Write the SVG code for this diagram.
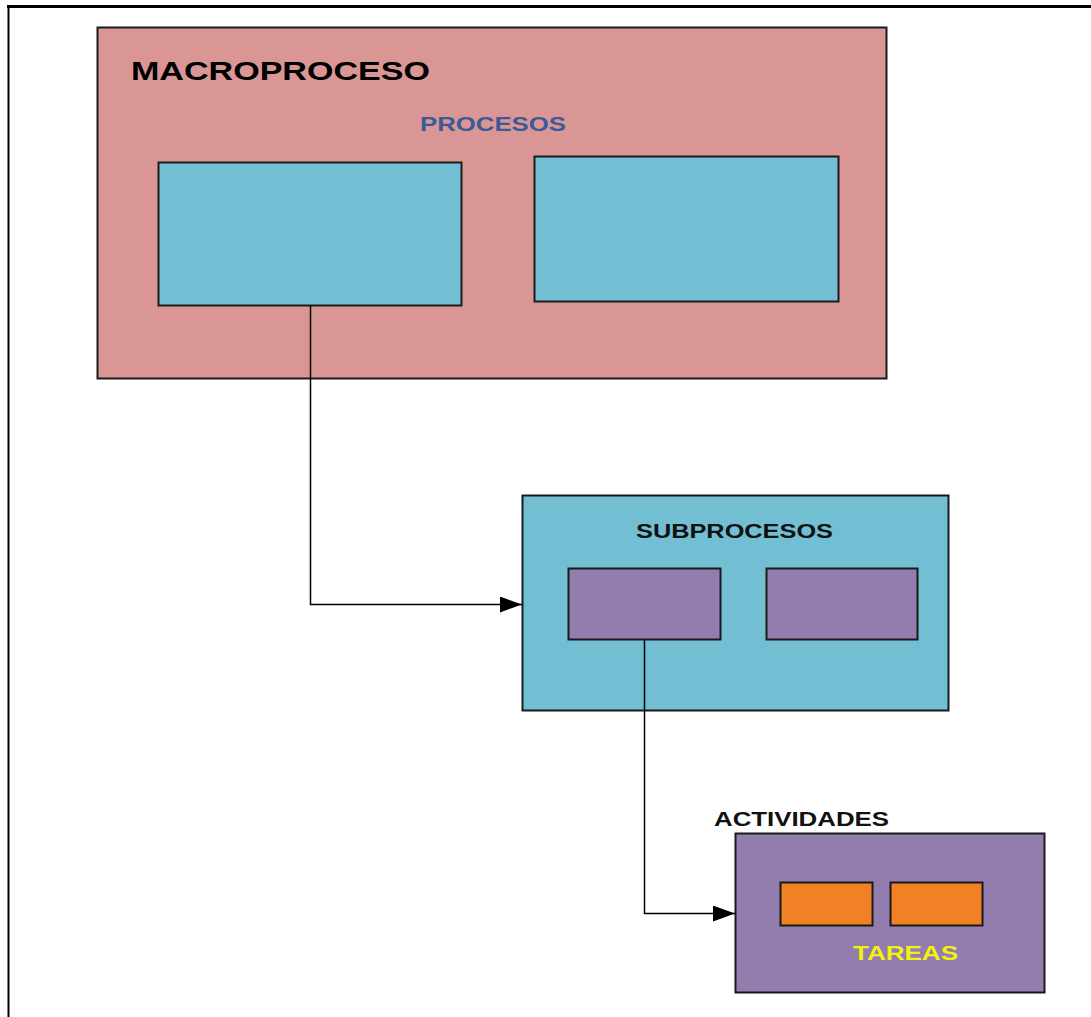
<svg xmlns="http://www.w3.org/2000/svg" width="1091" height="1017" viewBox="0 0 1091 1017">
  <defs>
    <style>
      .box { stroke: #1a1a1a; stroke-width: 2; }
      .macro { fill: #D99694; }
      .proc { fill: #72BED3; }
      .sub { fill: #937CAE; }
      .task { fill: #F08125; }
      .lbl { font-family: "Liberation Sans", Arial, sans-serif; font-weight: bold; }
      .link { fill: none; stroke: #000; stroke-width: 1.5; }
    </style>
    <marker id="arrow" markerWidth="22" markerHeight="16" refX="22" refY="8" orient="auto" markerUnits="userSpaceOnUse">
      <path d="M0,0 L22,8 L0,16 Z" fill="#000"/>
    </marker>
  </defs>

  <rect width="1091" height="1017" fill="#fff"/>
  <!-- page frame -->
  <line x1="7" y1="6.5" x2="1091" y2="6.5" stroke="#000" stroke-width="3"/>
  <line x1="8.5" y1="5" x2="8.5" y2="1017" stroke="#000" stroke-width="2"/>

  <g id="macroproceso">
    <rect class="box macro" x="97.5" y="27.5" width="789" height="351"/>
    <text class="lbl" x="131" y="80" font-size="26" textLength="299" lengthAdjust="spacingAndGlyphs">MACROPROCESO</text>
    <text class="lbl" x="420" y="131" font-size="20" fill="#3A5A98" textLength="146" lengthAdjust="spacingAndGlyphs">PROCESOS</text>
  </g>
  <g id="proceso-1">
    <rect class="box proc" x="158.5" y="162.5" width="303" height="143"/>
  </g>
  <g id="proceso-2">
    <rect class="box proc" x="534.5" y="156.5" width="304" height="145"/>
  </g>

  <g id="subprocesos">
    <rect class="box proc" x="522.5" y="495.5" width="426" height="215"/>
    <text class="lbl" x="636" y="538" font-size="21" fill="#111" textLength="197" lengthAdjust="spacingAndGlyphs">SUBPROCESOS</text>
  </g>
  <g id="subproceso-1">
    <rect class="box sub" x="568.5" y="568.5" width="152" height="71"/>
  </g>
  <g id="subproceso-2">
    <rect class="box sub" x="766.5" y="568.5" width="151" height="71"/>
  </g>

  <g id="actividades">
    <rect class="box sub" x="735.5" y="833.5" width="309" height="159"/>
    <text class="lbl" x="714" y="826" font-size="20" fill="#111" textLength="175" lengthAdjust="spacingAndGlyphs">ACTIVIDADES</text>
    <text class="lbl" x="853" y="960" font-size="20" fill="#F2F20A" textLength="105" lengthAdjust="spacingAndGlyphs">TAREAS</text>
  </g>
  <g id="tarea-1">
    <rect class="box task" x="780.5" y="882.5" width="92" height="43"/>
  </g>
  <g id="tarea-2">
    <rect class="box task" x="890.5" y="882.5" width="92" height="43"/>
  </g>

  <g id="connectors">
    <polyline class="link" points="310.5,306 310.5,604.5 522,604.5" marker-end="url(#arrow)"/>
    <polyline class="link" points="644.5,640 644.5,913.5 735,913.5" marker-end="url(#arrow)"/>
  </g>
</svg>
